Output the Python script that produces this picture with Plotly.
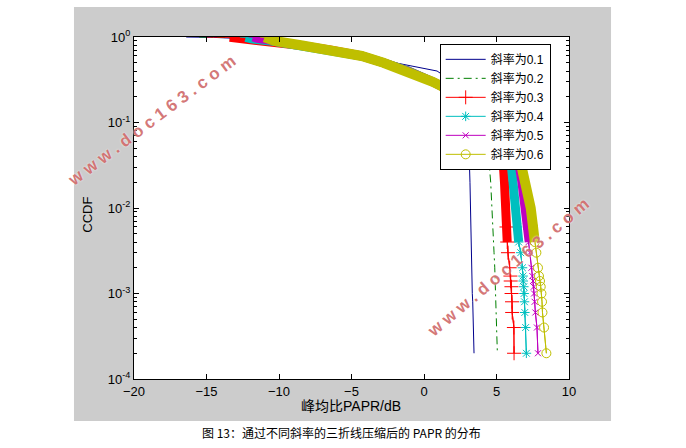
import plotly.graph_objects as go

# CCDF levels shared by all series
levels = [1.0, 0.99, 0.95, 0.9, 0.8, 0.7, 0.6, 0.5, 0.4, 0.3, 0.2, 0.1, 0.05, 0.02, 0.01,
          0.006, 0.004, 0.003, 0.002, 0.0016, 0.0014, 0.0012, 0.001, 0.0008, 0.0006, 0.0004, 0.0002]

# PAPR (dB) at each CCDF level
papr_01 = [-16.4, -14.5, -12.2, -10.7, -8.7, -6.4, -4.0, -2.0, 0.9, 2.0, 2.7, 3.0, 3.1, 3.17, 3.2,
           3.22, 3.25, 3.26, 3.27, 3.3, 3.31, 3.32, 3.33, 3.36, 3.38, 3.42, 3.45]
papr_02 = [-15.5, -14.0, -12.0, -10.6, -8.6, -6.4, -4.3, -2.7, -0.9, 1.2, 3.0, 4.0, 4.4, 4.6, 4.7,
           4.75, 4.8, 4.83, 4.88, 4.9, 4.91, 4.92, 4.93, 4.95, 4.98, 5.02, 5.06]
papr_03 = [-15.0, -13.4, -12.4, -10.6, -8.6, -6.4, -4.3, -2.8, -1.1, 0.6, 2.6, 4.3, 5.4, 5.55, 5.64,
           5.69, 5.74, 5.79, 5.91, 5.96, 5.98, 6.03, 6.04, 6.07, 6.08, 6.2, 6.21]
papr_04 = [-12.7, -12.3, -11.9, -10.6, -8.6, -6.4, -4.3, -2.8, -1.1, 0.6, 2.7, 4.6, 5.9, 6.14, 6.26,
           6.44, 6.53, 6.67, 6.79, 6.83, 6.84, 6.88, 6.9, 6.93, 6.95, 7.01, 7.06]
papr_05 = [-12.1, -11.8, -11.5, -10.5, -8.6, -6.4, -4.3, -2.8, -1.1, 0.6, 2.7, 4.7, 6.35, 6.72, 6.9,
           7.06, 7.22, 7.29, 7.41, 7.47, 7.52, 7.57, 7.59, 7.63, 7.68, 7.79, 7.86]
papr_06 = [-11.3, -11.0, -10.8, -10.3, -8.5, -6.3, -4.3, -2.8, -1.1, 0.6, 2.7, 4.8, 6.45, 7.06, 7.36,
           7.52, 7.64, 7.75, 7.86, 7.93, 8.0, 8.05, 8.1, 8.14, 8.17, 8.28, 8.44]

names = ["斜率为0.1", "斜率为0.2", "斜率为0.3", "斜率为0.4", "斜率为0.5", "斜率为0.6"]
x_ticks = [-20, -15, -10, -5, 0, 5, 10]
y_ticks = [1e-4, 1e-3, 1e-2, 1e-1, 1]
y_ticktext = ["10<sup>-4</sup>", "10<sup>-3</sup>", "10<sup>-2</sup>", "10<sup>-1</sup>", "10<sup>0</sup>"]

BAND_START = 1     # dense-marker band covers levels[BAND_START:BAND_END]
BAND_END = 17
MARK_START = 15    # individual markers visible from levels[MARK_START:]

colors = ["#00008C", "#007F00", "#FF0000", "#00BFBF", "#BF00BF", "#BFBF00"]
symbols = [None, None, "cross-thin-open", "asterisk-open", "x-thin-open", "circle-open"]
msizes = [0, 0, 10, 8, 6, 9]
bandw = [0, 0, 9, 9, 8, 10]
series = [papr_01, papr_02, papr_03, papr_04, papr_05, papr_06]

fig = go.Figure()
font_lat = "Liberation Sans, Arial, Noto Sans CJK SC"

for i, xs in enumerate(series):
    c = colors[i]
    if symbols[i] is None:
        fig.add_trace(go.Scatter(
            x=xs, y=levels, mode="lines", name=names[i],
            line=dict(color=c, width=1, dash="8px,4px,2px,4px" if i == 1 else "solid")))
    else:
        fig.add_trace(go.Scatter(
            x=xs[BAND_START:BAND_END], y=levels[BAND_START:BAND_END], mode="lines",
            showlegend=False, line=dict(color=c, width=bandw[i]), hoverinfo="skip"))
        fig.add_trace(go.Scatter(
            x=xs, y=levels, mode="lines", showlegend=False,
            line=dict(color=c, width=1), hoverinfo="skip"))
        fig.add_trace(go.Scatter(
            x=xs[MARK_START:], y=levels[MARK_START:], mode="lines+markers", name=names[i],
            line=dict(color=c, width=1),
            marker=dict(symbol=symbols[i], size=msizes[i], color=c,
                        line=dict(color=c, width=1)),
            cliponaxis=False))

wm_font = dict(family="Liberation Sans", size=17, color="rgba(205,95,95,0.85)",
               shadow="0px 0px 2px white", weight="bold")

fig.update_layout(
    width=686, height=448,
    margin=dict(l=134, r=117, t=37, b=69),
    paper_bgcolor="white", plot_bgcolor="white",
    showlegend=True,
    legend=dict(x=0.7027, y=0.98, xanchor="left", yanchor="top",
                bgcolor="white", bordercolor="black", borderwidth=1,
                font=dict(family=font_lat, size=12, color="black"),
                itemwidth=40, tracegroupgap=0),
    shapes=[
        dict(type="rect", xref="paper", yref="paper", x0=-0.138, x1=1.0966, y0=-0.1228, y1=1.0877,
             fillcolor="#CCCCCC", line=dict(width=0), layer="below"),
        dict(type="rect", xref="paper", yref="paper", x0=0, x1=1, y0=0, y1=1,
             fillcolor="white", line=dict(width=0), layer="below"),
    ],
    annotations=[
        dict(text="CCDF", xref="paper", yref="paper", x=-0.106, y=0.48, textangle=-90,
             xanchor="center", yanchor="middle", showarrow=False,
             font=dict(family=font_lat, size=13, color="black")),
        dict(text="峰均比PAPR/dB", xref="paper", yref="paper", x=0.498, y=-0.079,
             xanchor="center", yanchor="middle", showarrow=False,
             font=dict(family=font_lat, size=14, color="black")),
        dict(text="图 13：通过不同斜率的三折线压缩后的 PAPR 的分布", xref="paper", yref="paper",
             x=0.477, y=-0.155, xanchor="center", yanchor="middle", showarrow=False,
             font=dict(family="Noto Sans CJK SC", size=12, color="black")),
        dict(text="w w w . d o c 1 6 3 . c o m", xref="paper", yref="paper", x=0.041, y=0.757,
             xanchor="center", yanchor="middle", textangle=-37, showarrow=False, font=wm_font),
        dict(text="w w w . d o c 1 6 3 . c o m", xref="paper", yref="paper", x=0.861, y=0.325,
             xanchor="center", yanchor="middle", textangle=-40, showarrow=False, font=wm_font),
    ],
)

fig.update_xaxes(range=[-20, 10], tickvals=x_ticks, ticks="inside", ticklen=5,
                 tickcolor="black", showline=True, linecolor="black", linewidth=1,
                 mirror="ticks", showgrid=False, zeroline=False,
                 tickfont=dict(family=font_lat, size=13, color="black"))
fig.update_yaxes(type="log", range=[-4, 0], tickvals=y_ticks, ticktext=y_ticktext,
                 ticks="inside", ticklen=5, tickcolor="black", showline=True,
                 linecolor="black", linewidth=1, mirror="ticks", showgrid=False,
                 zeroline=False,
                 minor=dict(ticks="inside", ticklen=3, tickcolor="black", dtick="D1",
                            showgrid=False),
                 tickfont=dict(family=font_lat, size=13, color="black"))

fig.write_html("out.html", config={"displayModeBar": False},
               post_script="document.body.style.margin='0px';document.body.style.overflow='hidden';")
